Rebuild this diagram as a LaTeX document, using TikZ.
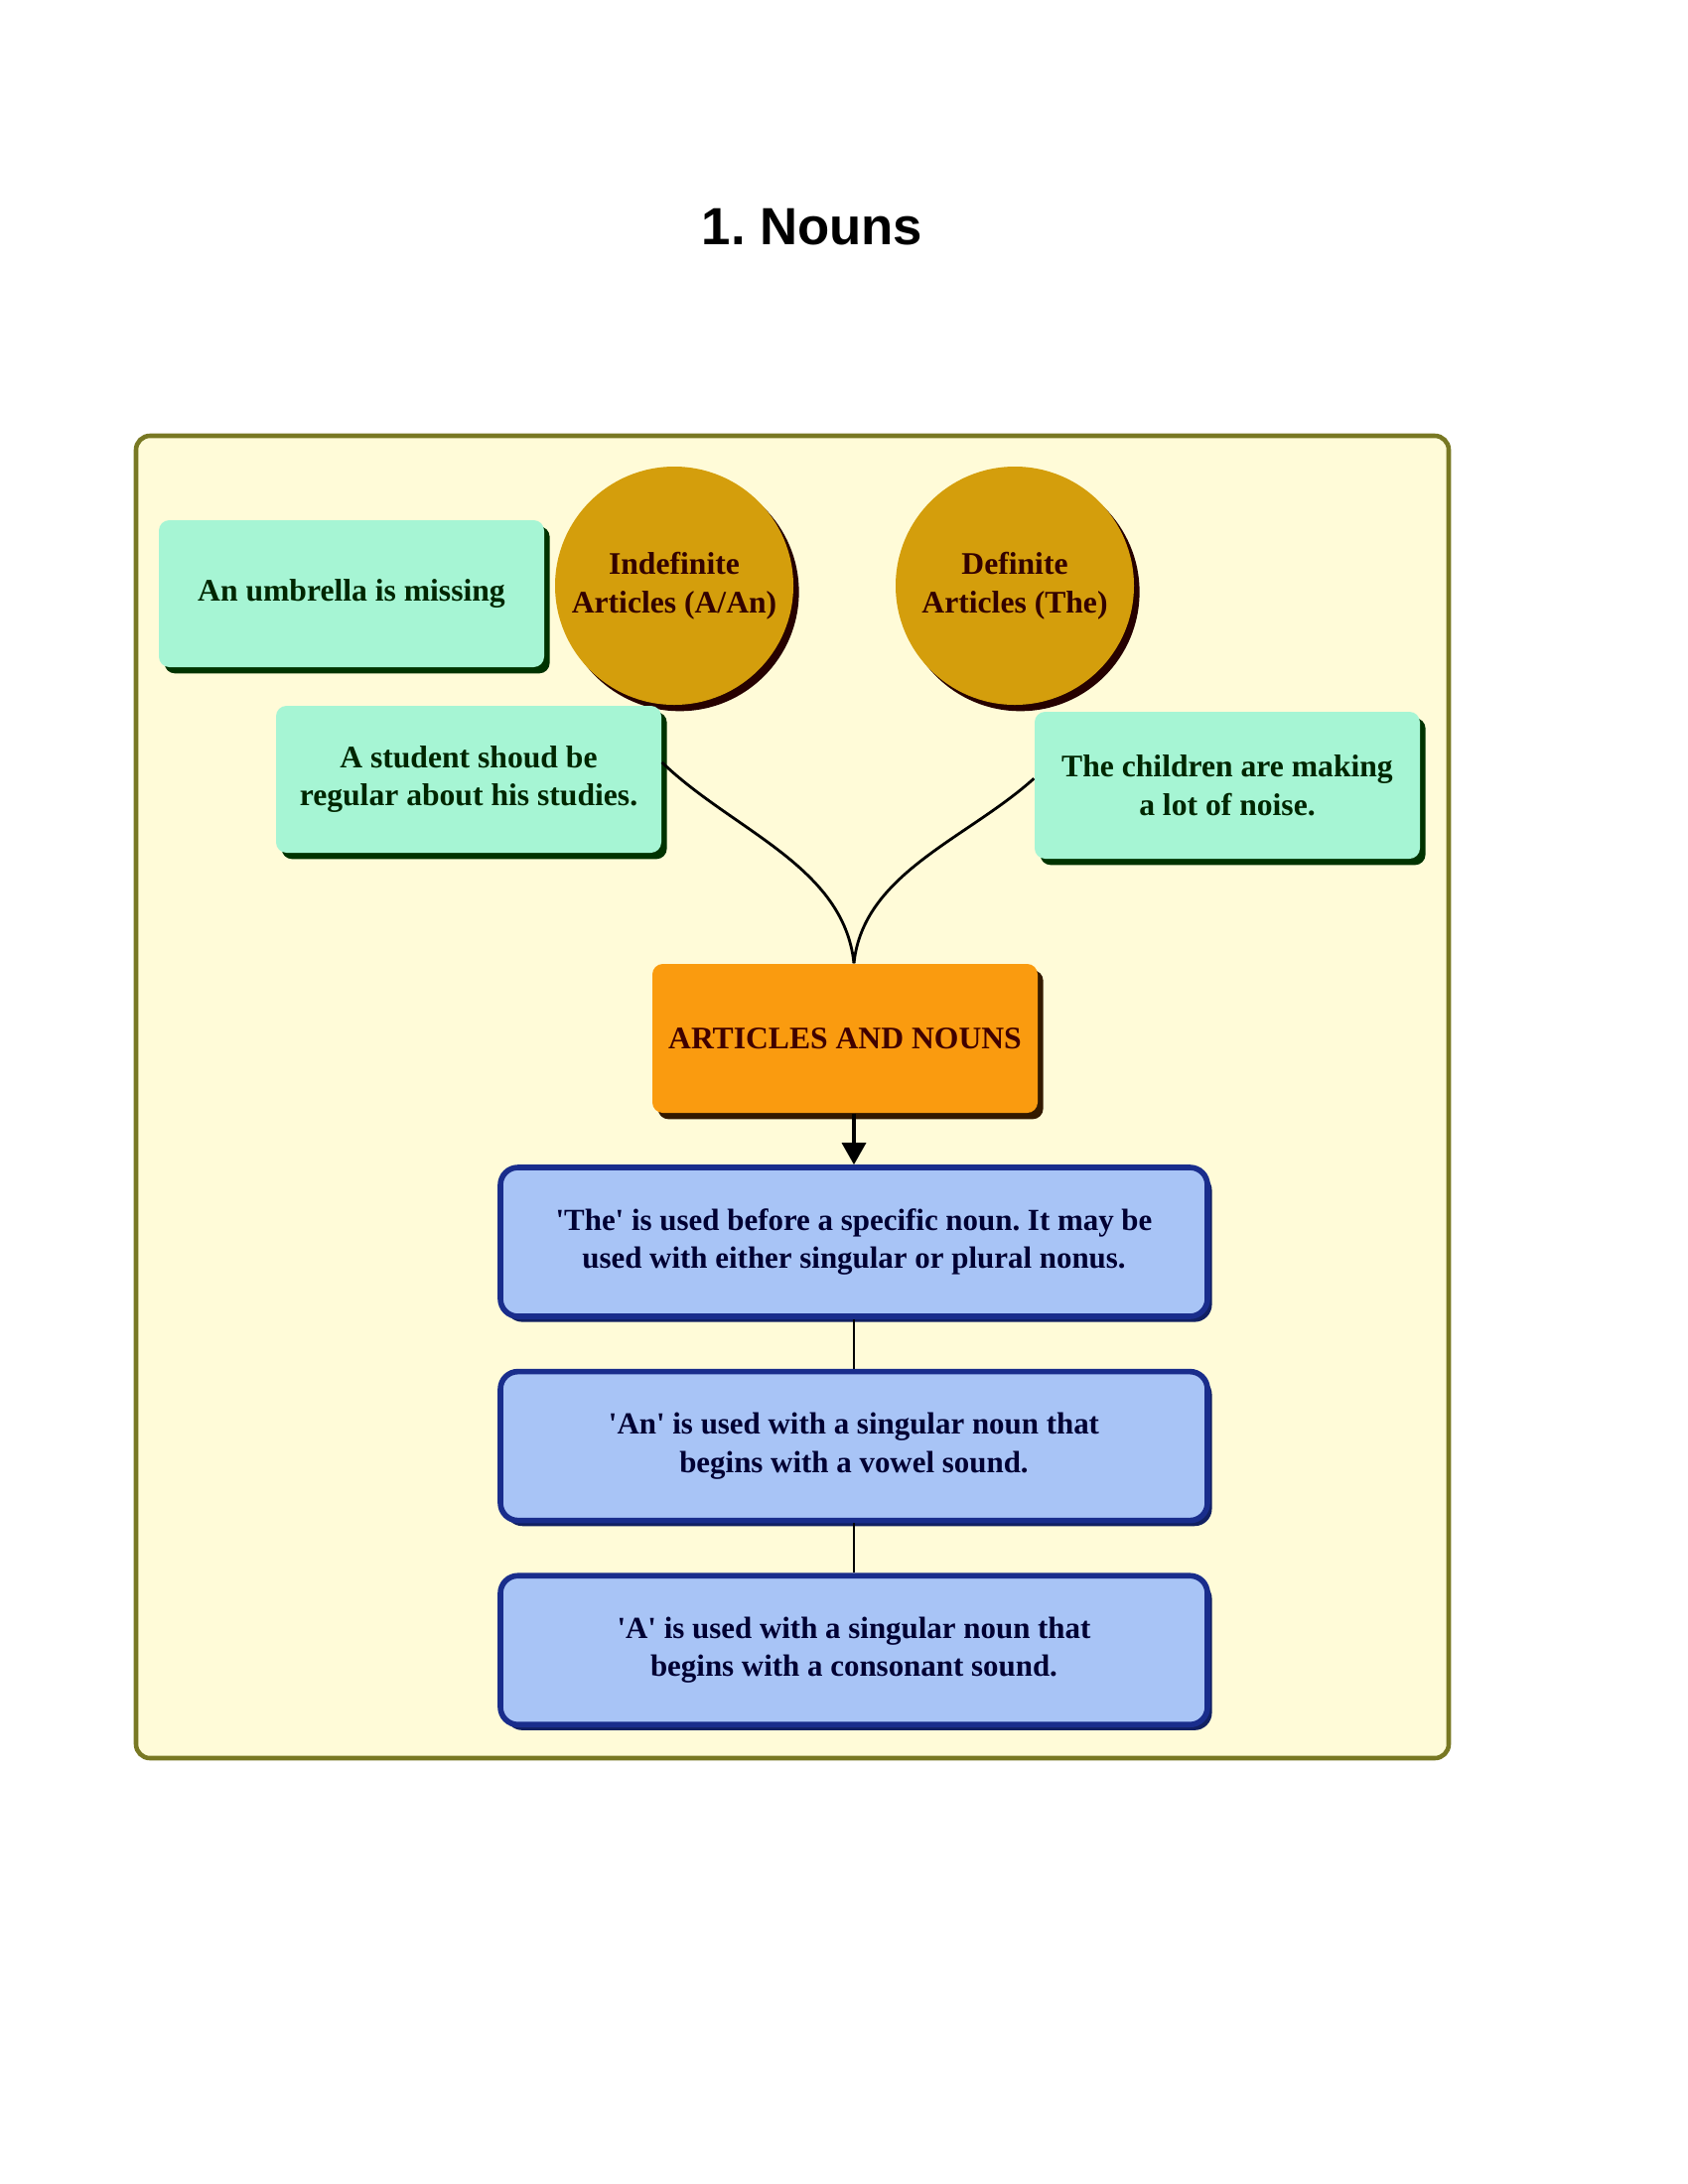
\documentclass[tikz,border=0pt]{standalone}
\usepackage{fontspec}
\setmainfont{Liberation Serif}
\newfontfamily\headfont{Liberation Sans}
\usepackage{tikz}
\usetikzlibrary{positioning,shadows,arrows.meta}
\definecolor{panelfill}{RGB}{255,251,216}
\definecolor{paneldraw}{RGB}{120,120,35}
\definecolor{aquafill}{RGB}{166,245,212}
\definecolor{goldfill}{RGB}{212,158,12}
\definecolor{orangefill}{RGB}{250,155,15}
\definecolor{bluefill}{RGB}{168,196,246}
\definecolor{bluedraw}{RGB}{25,45,140}
\frenchspacing

\begin{document}
\begin{tikzpicture}[
  x=0.1mm, y=-0.1mm,
  node distance=5mm,
  sample/.style={
    rectangle, rounded corners=3pt,
    minimum width=38.8mm, minimum height=14.8mm,
    align=center, fill=aquafill, text=black!85!green,
    font=\bfseries\fontsize{9}{11}\selectfont,
    drop shadow={shadow xshift=1.6pt, shadow yshift=-1.8pt, fill=black!80!green, opacity=1}
  },
  article/.style={
    circle, minimum size=24mm, inner sep=0pt,
    align=center, fill=goldfill, text=black!80!red,
    font=\bfseries\fontsize{9}{11}\selectfont,
    drop shadow={shadow xshift=1.6pt, shadow yshift=-1.8pt, fill=black!85!red, opacity=1}
  },
  topic/.style={
    rectangle, rounded corners=3pt,
    minimum width=38.8mm, minimum height=15mm,
    align=center, fill=orangefill, text=black!75!red,
    font=\bfseries\fontsize{9}{11}\selectfont,
    drop shadow={shadow xshift=1.6pt, shadow yshift=-1.8pt, fill=black!80!orange, opacity=1}
  },
  rule/.style={
    rectangle, rounded corners=5pt,
    minimum width=71.2mm, minimum height=15mm,
    align=center, fill=bluefill, draw=bluedraw, line width=1.6pt,
    text=black!80!blue,
    font=\bfseries\fontsize{8.8}{11}\selectfont,
    drop shadow={shadow xshift=1.3pt, shadow yshift=-1.6pt, fill=bluedraw!70!black, opacity=1}
  },
  link/.style={line width=0.8pt, draw=black},
  arrow/.style={-{Triangle[length=2.2mm, width=2.4mm]}, line width=0.9pt, draw=black}
]
\useasboundingbox (0,0) rectangle (1700,2200);
% Title
\node[font=\headfont\bfseries\fontsize{15}{18}\selectfont] (title) at (818,229) {1. Nouns};
% Panel
\draw[fill=panelfill, draw=paneldraw, line width=1.3pt, rounded corners=4pt]
  (137,439) rectangle (1459,1771);
% Articles
\node[article] (indef) at (679,590) {Indefinite\\Articles (A/An)};
\node[article] (def)   at (1022,590) {Definite\\Articles (The)};
% Examples
\node[sample] (umbrella) at (354,598) {An umbrella is missing};
\node[sample] (student)  at (472,785) {A student shoud be\\regular about his studies.};
\node[sample] (children) at (1236,791) {The children are making\\a lot of noise.};
% Centre
\node[topic] (nouns) at (851,1046) {ARTICLES AND NOUNS};
\node[rule] (therule) at (860,1251) {\textquotesingle The\textquotesingle{} is used before a specific noun. It may be\\used with either singular or plural nonus.};
\node[rule] (anrule)  [below=of therule] {\textquotesingle An\textquotesingle{} is used with a singular noun that\\begins with a vowel sound.};
\node[rule] (arule)   [below=of anrule]  {\textquotesingle A\textquotesingle{} is used with a singular noun that\\begins with a consonant sound.};
% Connectors
\draw[link] (student.5) to[out=-44, in=96, looseness=0.9] (nouns.north -| therule.north);
\draw[link] (children.178) to[out=-138, in=84, looseness=0.9] (nouns.north -| therule.north);
\draw[arrow] (nouns.south -| therule.north) -- (therule.north);
\draw[link] (therule) -- (anrule);
\draw[link] (anrule) -- (arule);
\end{tikzpicture}
\end{document}
